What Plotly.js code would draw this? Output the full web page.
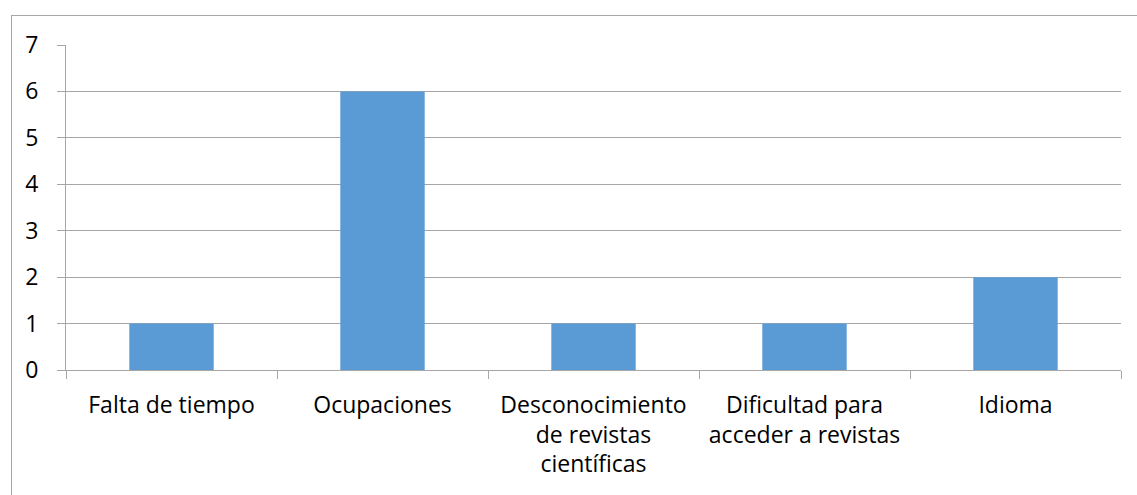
<!DOCTYPE html>
<html>
<head>
<meta charset="utf-8">
<script src="https://cdn.plot.ly/plotly-3.0.1.min.js"></script>
<style>
  html, body { margin:0; padding:0; background:#fff; overflow:hidden; }
  #frame { position:absolute; left:11px; top:15px; width:1200px; height:600px; border:1px solid #a6a6a6; box-sizing:border-box; }
  #chart { position:absolute; left:0; top:0; width:1137px; height:495px; }
</style>
</head>
<body>
<div id="frame"></div>
<div id="chart"></div>
<script>
const categories = [
  "Falta de tiempo",
  "Ocupaciones",
  "Desconocimiento<br>de revistas<br>científicas",
  "Dificultad para<br>acceder a revistas",
  "Idioma"
];
const values = [1, 6, 1, 1, 2];
const yTicks = [0, 1, 2, 3, 4, 5, 6, 7];

const trace = {
  type: "bar",
  x: categories,
  y: values,
  marker: { color: "#5B9BD5" },
  hoverinfo: "x+y"
};

const layout = {
  width: 1137,
  height: 495,
  margin: { l: 66, r: 16, t: 45, b: 125 },
  paper_bgcolor: "rgba(0,0,0,0)",
  plot_bgcolor: "rgba(0,0,0,0)",
  font: { family: "Open Sans, sans-serif", size: 23, color: "#000" },
  bargap: 0.6,
  showlegend: false,
  xaxis: {
    type: "category",
    tickson: "boundaries",
    ticks: "outside",
    ticklen: 8,
    tickcolor: "#a6a6a6",
    tickwidth: 1,
    showgrid: false,
    showline: true,
    linecolor: "#a6a6a6",
    linewidth: 1,
    ticklabelstandoff: 14,
    tickfont: { family: "Open Sans, sans-serif", size: 23, color: "#000" }
  },
  yaxis: {
    range: [0, 7],
    tickvals: yTicks,
    ticktext: yTicks.map(String),
    ticks: "outside",
    ticklen: 8,
    tickcolor: "#a6a6a6",
    tickwidth: 1,
    showgrid: true,
    gridcolor: "#a6a6a6",
    gridwidth: 1,
    zeroline: false,
    showline: true,
    linecolor: "#a6a6a6",
    linewidth: 1,
    ticklabelstandoff: 14,
    tickfont: { family: "Open Sans, sans-serif", size: 23, color: "#000" }
  }
};

Plotly.newPlot("chart", [trace], layout, { displayModeBar: false, staticPlot: true });
</script>
</body>
</html>
